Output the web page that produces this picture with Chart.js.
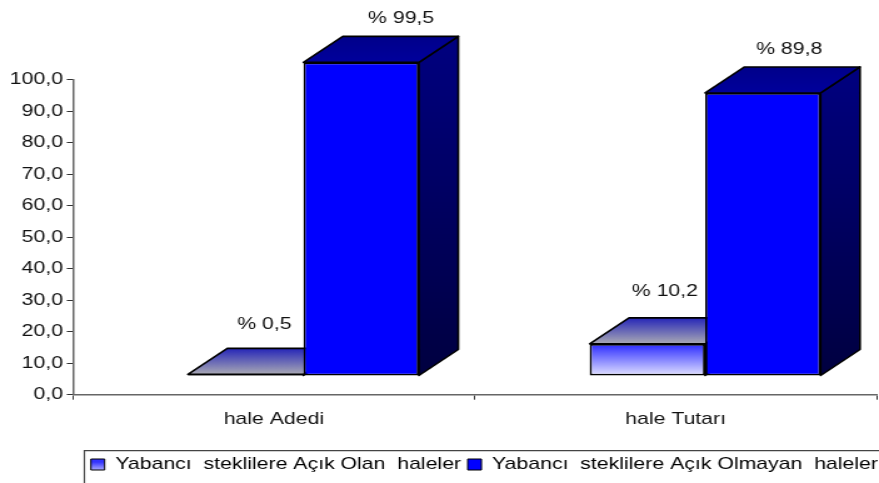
<!DOCTYPE html>
<html>
<head>
<meta charset="utf-8">
<style>
  html, body { margin: 0; padding: 0; background: #fff; overflow: hidden; }
</style>
<script src="https://cdn.jsdelivr.net/npm/chart.js@4"></script>
</head>
<body>
<!-- the reference is stretched sideways, so the canvas is too -->
<canvas id="chart" width="703" height="483" style="display:block;width:879px;height:483px"></canvas>
<script>
const categories = ["hale Adedi", "hale Tutarı"];
const openValues = [0.5, 10.2];
const closedValues = [99.5, 89.8];
const openLabels = ["% 0,5", "% 10,2"];
const closedLabels = ["% 99,5", "% 89,8"];
const seriesNames = ["Yabancı  steklilere Açık Olan  haleler", "Yabancı  steklilere Açık Olmayan  haleler"];
const yTickLabels = ["0,0", "10,0", "20,0", "30,0", "40,0", "50,0", "60,0", "70,0", "80,0", "90,0", "100,0"];

const FONT = { family: "'Liberation Sans', Arial, sans-serif", size: 17 };
const DEPTH_X = 31.5, DEPTH_Y = 26;
const SHIFT_X = 23.6, SHIFT_Y = -18.7;

function openFront(c) {
  const y = c.chart.scales.y;
  if (!y) return "#3333ff";
  const g = c.chart.ctx.createLinearGradient(0, y.getPixelForValue(c.raw), 0, y.getPixelForValue(0));
  g.addColorStop(0, "#2a2aff");
  g.addColorStop(1, "#e4e4ff");
  return g;
}

function legendGradient(ctx) {
  const g = ctx.createLinearGradient(0, 462, 0, 474);
  g.addColorStop(0, "#3333ff");
  g.addColorStop(1, "#e4e4ff");
  return g;
}

function drawFace(ctx, pts, fill) {
  ctx.beginPath();
  pts.forEach((p, i) => i ? ctx.lineTo(p[0], p[1]) : ctx.moveTo(p[0], p[1]));
  ctx.closePath();
  ctx.fillStyle = fill;
  ctx.fill();
  ctx.stroke();
}

function drawDepth(ctx, bar, topColors, sideColors) {
  const half = bar.width / 2;
  const l = bar.x - half, r = bar.x + half, t = bar.y, b = bar.base;
  ctx.lineWidth = 1.6;
  ctx.strokeStyle = "#000";
  ctx.lineJoin = "round";

  const side = ctx.createLinearGradient(0, t - DEPTH_Y, 0, b);
  side.addColorStop(0, sideColors[0]);
  side.addColorStop(1, sideColors[1]);
  drawFace(ctx, [[r, t], [r + DEPTH_X, t - DEPTH_Y], [r + DEPTH_X, b - DEPTH_Y], [r, b]], side);

  const top = ctx.createLinearGradient(0, t - DEPTH_Y, 0, t);
  top.addColorStop(0, topColors[0]);
  top.addColorStop(1, topColors[1]);
  drawFace(ctx, [[l, t], [l + DEPTH_X, t - DEPTH_Y], [r + DEPTH_X, t - DEPTH_Y], [r, t]], top);
}

// draws the bars as boxes, left series first so the blue one sits in front
const boxes = {
  id: "boxes",
  afterLayout(chart) {
    // legend text runs right up to the picture edge
    chart.legend.right += 6.5;
  },
  beforeDatasetsDraw(chart) {
    const ctx = chart.ctx;
    const looks = [
      { top: ["#2626b8", "#aaaab4"], side: ["#000080", "#000040"] },
      { top: ["#00008a", "#00009c"], side: ["#000080", "#000040"] }
    ];
    ctx.save();
    ctx.translate(SHIFT_X, SHIFT_Y);
    [0, 1].forEach(i => {
      const meta = chart.getDatasetMeta(i);
      meta.data.forEach(bar => drawDepth(ctx, bar, looks[i].top, looks[i].side));
      meta.controller.draw();
    });
    ctx.restore();

    // value labels
    const texts = [openLabels, closedLabels];
    const offsets = [[[15, -50], [14, -53]], [[32, -44], [21, -44]]];
    ctx.save();
    ctx.font = FONT.size + "px " + FONT.family;
    ctx.fillStyle = "#111";
    ctx.textAlign = "center";
    ctx.textBaseline = "middle";
    [0, 1].forEach(i => {
      chart.getDatasetMeta(i).data.forEach((bar, j) => {
        ctx.fillText(texts[i][j], bar.x + SHIFT_X + offsets[i][j][0], bar.y + SHIFT_Y + offsets[i][j][1]);
      });
    });
    ctx.restore();
    return false;
  },
  afterDraw(chart) {
    // legend frame, runs out past the right and bottom of the picture
    const ctx = chart.ctx;
    const lg = chart.legend;
    ctx.save();
    ctx.strokeStyle = "#444";
    ctx.lineWidth = 1.2;
    ctx.beginPath();
    ctx.moveTo(chart.width + 5, lg.top);
    ctx.lineTo(67.5, lg.top);
    ctx.lineTo(67.5, chart.height + 5);
    ctx.stroke();
    ctx.restore();
  }
};

const canvas = document.getElementById("chart");
new Chart(canvas, {
  type: "bar",
  plugins: [boxes],
  data: {
    labels: categories,
    datasets: [
      { label: seriesNames[0], data: openValues, backgroundColor: openFront, borderColor: "#000", borderWidth: 1.8, borderSkipped: false },
      { label: seriesNames[1], data: closedValues, backgroundColor: "#0000ff", borderColor: "#000", borderWidth: 1.8, borderSkipped: false }
    ]
  },
  options: {
    responsive: false,
    animation: false,
    devicePixelRatio: 1,
    layout: { padding: { top: 79.5, right: 2, left: 0, bottom: 0 } },
    datasets: { bar: { categoryPercentage: 0.575, barPercentage: 1, clip: false } },
    plugins: {
      tooltip: { enabled: false },
      legend: {
        position: "bottom",
        align: "end",
        onClick: null,
        labels: {
          color: "#111",
          font: FONT,
          boxWidth: 11,
          boxHeight: 11,
          padding: 5.3,
          generateLabels(chart) {
            return seriesNames.map((name, i) => ({
              text: name,
              fillStyle: i === 0 ? legendGradient(chart.ctx) : "#0000ff",
              strokeStyle: "#000",
              lineWidth: 1,
              datasetIndex: i
            }));
          }
        }
      }
    },
    scales: {
      x: {
        afterFit(scale) { scale.height = 56; },
        border: { color: "#666", width: 1.5 },
        grid: { drawOnChartArea: false, color: "#333", tickLength: 5 },
        ticks: { color: "#111", font: FONT, padding: 9, maxRotation: 0 }
      },
      y: {
        min: 0,
        max: 100,
        afterFit(scale) { scale.width = 58.4; },
        border: { color: "#666", width: 1.5 },
        grid: { drawOnChartArea: false, color: "#333", tickLength: 5 },
        ticks: {
          stepSize: 10,
          color: "#111",
          font: FONT,
          padding: 3,
          callback(value, index) { return yTickLabels[index]; }
        }
      }
    }
  }
});
</script>
</body>
</html>
